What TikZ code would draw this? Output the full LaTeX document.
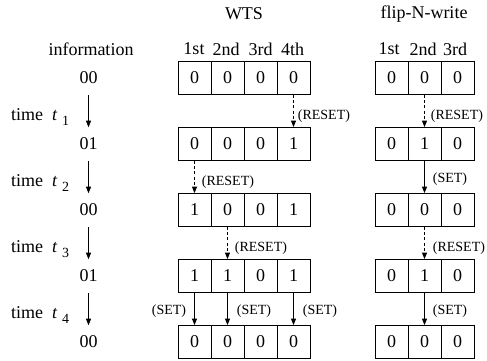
\documentclass[tikz,border=0pt]{standalone}
\usepackage{fontspec}
\setmainfont{Liberation Serif}
\usetikzlibrary{arrows.meta}
\begin{document}
\begin{tikzpicture}[x=1pt,y=-1pt,
  txt/.style={font=\fontsize{18}{18}\selectfont, inner sep=0pt},
  lbl/.style={font=\fontsize{14}{14}\selectfont, inner sep=0pt},
  cell/.style={draw, line width=0.8pt, minimum width=33pt, minimum height=33pt, inner sep=0pt, font=\fontsize{18}{18}\selectfont},
  arr/.style={-{Triangle[length=6.5pt,width=5pt]}, line width=0.8pt},
  darr/.style={arr, dash pattern=on 3pt off 2.2pt}]
\useasboundingbox (0,0) rectangle (487,360);

% titles and headers
\node[txt] (tw) at (244,14) {WTS};
\node[txt] (tf) at (424,14) {flip-N-write};
\node[txt] (hinfo) at (91,49) {information};
\node[txt] (hw1) at (194,49) {1st};
\node[txt] (hw2) at (226,49) {2nd};
\node[txt] (hw3) at (260.5,49) {3rd};
\node[txt] (hw4) at (292.5,49) {4th};
\node[txt] (hf1) at (389,49) {1st};
\node[txt] (hf2) at (423,49) {2nd};
\node[txt] (hf3) at (455,49) {3rd};

% cells
\foreach \r/\a/\b/\c/\d in {0/0/0/0/0, 1/0/0/0/1, 2/1/0/0/1, 3/1/1/0/1, 4/0/0/0/0}{
  \node[cell] (w-\r-0) at (194.5,{78+66*\r}) {\a};
  \node[cell] (w-\r-1) at (227.5,{78+66*\r}) {\b};
  \node[cell] (w-\r-2) at (260.5,{78+66*\r}) {\c};
  \node[cell] (w-\r-3) at (293.5,{78+66*\r}) {\d};
}
\foreach \r/\a/\b/\c in {0/0/0/0, 1/0/1/0, 2/0/0/0, 3/0/1/0, 4/0/0/0}{
  \node[cell] (f-\r-0) at (391.5,{78+66*\r}) {\a};
  \node[cell] (f-\r-1) at (424.5,{78+66*\r}) {\b};
  \node[cell] (f-\r-2) at (457.5,{78+66*\r}) {\c};
}

% information column
\foreach \r/\v in {0/00, 1/01, 2/00, 3/01, 4/00}{
  \node[txt] (i-\r) at (88.5,{78+66*\r}) {\v};
}
\foreach \r/\s in {0/1, 1/2, 2/3, 3/4}{
  \pgfmathtruncatemacro{\n}{\r+1}
  \draw[arr, shorten <=10.5pt, shorten >=10.5pt] (i-\r.south) -- (i-\n.north);
  \node[txt, anchor=base west] (tl-\s) at (11,{120+66*\r}) {time\hspace{9pt}\textit{t}\hspace{4.5pt}\raisebox{-5pt}{\fontsize{14}{14}\selectfont \s}};
}

% t1
\draw[darr] (w-0-3.south) -- (w-1-3.north) node[lbl, pos=0.65, right=4pt] {(RESET)};
\draw[darr] (f-0-1.south) -- (f-1-1.north) node[lbl, pos=0.65, right=6pt] {(RESET)};
% t2
\draw[darr] (w-1-0.south) -- (w-2-0.north) node[lbl, pos=0.65, right=7pt] {(RESET)};
\draw[arr] (f-1-1.south) -- (f-2-1.north) node[lbl, pos=0.56, right=8pt] {(SET)};
% t3
\draw[darr] (w-2-1.south) -- (w-3-1.north) node[lbl, pos=0.65, right=7pt] {(RESET)};
\draw[darr] (f-2-1.south) -- (f-3-1.north) node[lbl, pos=0.65, right=8pt] {(RESET)};
% t4
\draw[arr] (w-3-0.south) -- (w-4-0.north) node[lbl, pos=0.56, left=8pt] {(SET)};
\draw[arr] (w-3-1.south) -- (w-4-1.north) node[lbl, pos=0.56, right=9pt] {(SET)};
\draw[arr] (w-3-3.south) -- (w-4-3.north) node[lbl, pos=0.56, right=9pt] {(SET)};
\draw[arr] (f-3-1.south) -- (f-4-1.north) node[lbl, pos=0.56, right=8pt] {(SET)};
\end{tikzpicture}
\end{document}
